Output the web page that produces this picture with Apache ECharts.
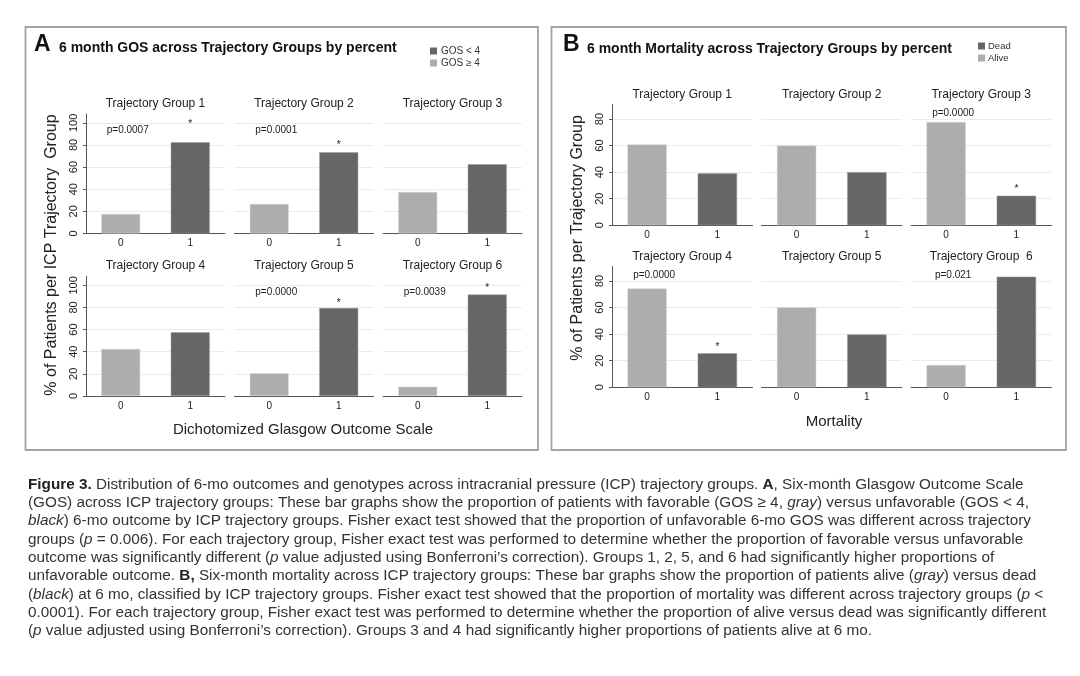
<!DOCTYPE html>
<html>
<head>
<meta charset="utf-8">
<script src="https://cdn.jsdelivr.net/npm/echarts@6/dist/echarts.min.js"></script>
<style>
  html, body { margin: 0; background: #fff; }
  #chart { width: 1080px; height: 676px; }
</style>
</head>
<body>
<div id="chart"></div>
<script>
// ---- data ----
const gosGroups = ['Trajectory Group 1', 'Trajectory Group 2', 'Trajectory Group 3',
                   'Trajectory Group 4', 'Trajectory Group 5', 'Trajectory Group 6'];
const mortGroups = ['Trajectory Group 1', 'Trajectory Group 2', 'Trajectory Group 3',
                    'Trajectory Group 4', 'Trajectory Group 5', 'Trajectory Group  6'];
const outcomeCats = ['0', '1'];

// % GOS >= 4 (category 0, gray) and GOS < 4 (category 1, black)
const gosFavorable   = [17.6, 26.7, 37.5, 42.5, 20.5, 8.3];
const gosUnfavorable = [82.4, 73.3, 62.5, 57.5, 79.5, 91.7];
const gosP    = ['p=0.0007', 'p=0.0001', '', '', 'p=0.0000', 'p=0.0039'];
const gosStar = [100.5, 81.5, null, null, 86, 99];
const gosTicks = [0, 20, 40, 60, 80, 100];

// % alive (category 0, gray) and dead (category 1, black)
const mortAlive = [60.9, 60.0, 77.8, 74.4, 60.2, 16.7];
const mortDead  = [39.1, 40.0, 22.2, 25.6, 39.8, 83.3];
const mortP    = ['', '', 'p=0.0000', 'p=0.0000', '', 'p=0.021'];
const mortStar = [null, null, 28.5, 31.5, null, null];
const mortTicks = [0, 20, 40, 60, 80];

const captionLines = [
  '{b|Figure 3.} Distribution of 6-mo outcomes and genotypes across intracranial pressure (ICP) trajectory groups. {b|A}, Six-month Glasgow Outcome Scale',
  '(GOS) across ICP trajectory groups: These bar graphs show the proportion of patients with favorable (GOS ≥ 4, {i|gray}) versus unfavorable (GOS < 4,',
  '{i|black}) 6-mo outcome by ICP trajectory groups. Fisher exact test showed that the proportion of unfavorable 6-mo GOS was different across trajectory',
  'groups ({i|p} = 0.006). For each trajectory group, Fisher exact test was performed to determine whether the proportion of favorable versus unfavorable',
  'outcome was significantly different ({i|p} value adjusted using Bonferroni’s correction). Groups 1, 2, 5, and 6 had significantly higher proportions of',
  'unfavorable outcome. {b|B,} Six-month mortality across ICP trajectory groups: These bar graphs show the proportion of patients alive ({i|gray}) versus dead',
  '({i|black}) at 6 mo, classified by ICP trajectory groups. Fisher exact test showed that the proportion of mortality was different across trajectory groups ({i|p} <',
  '0.0001). For each trajectory group, Fisher exact test was performed to determine whether the proportion of alive versus dead was significantly different',
  '({i|p} value adjusted using Bonferroni’s correction). Groups 3 and 4 had significantly higher proportions of patients alive at 6 mo.'
];

// ---- layout ----
const FONT = "'Liberation Sans', Arial, Helvetica, sans-serif";
const LIGHT = '#adadad';
const DARK = '#666666';
const TEXT = '#222';
const CAP = 15.3;

const panels = [
  {
    groups: gosGroups, light: gosFavorable, dark: gosUnfavorable,
    lightName: 'GOS ≥ 4', darkName: 'GOS < 4',
    pText: gosP, pY: 93.5, star: gosStar, ticks: gosTicks, max: 108,
    lefts: [86, 234.5, 383], tops: [114, 276.5], w: 139, h: 119.4, titleGap: 10.5
  },
  {
    groups: mortGroups, light: mortAlive, dark: mortDead,
    lightName: 'Alive', darkName: 'Dead',
    pText: mortP, pY: 84.5, star: mortStar, ticks: mortTicks, max: 91,
    lefts: [612, 761.5, 911], tops: [104.5, 266.5], w: 140.5, h: 120.7, titleGap: 9.5
  }
];

const grids = [], xAxes = [], yAxes = [], series = [];
const graphics = [
  { type: 'rect', shape: { x: 25.5, y: 27, width: 512.5, height: 423 },
    style: { fill: 'none', stroke: '#a3a3a3', lineWidth: 1.8 } },
  { type: 'rect', shape: { x: 551.5, y: 27, width: 514.5, height: 423 },
    style: { fill: 'none', stroke: '#a3a3a3', lineWidth: 1.8 } },
  { type: 'text', x: 34, y: 44.5, style: { text: 'A', fill: '#111', font: 'bold 23px ' + FONT, textVerticalAlign: 'middle' } },
  { type: 'text', x: 59, y: 48.5, style: { text: '6 month GOS across Trajectory Groups by percent', fill: '#111',
      font: 'bold 14px ' + FONT, textVerticalAlign: 'middle' } },
  { type: 'text', x: 563, y: 44.5, style: { text: 'B', fill: '#111', font: 'bold 23px ' + FONT, textVerticalAlign: 'middle' } },
  { type: 'text', x: 587, y: 49.5, style: { text: '6 month Mortality across Trajectory Groups by percent', fill: '#111',
      font: 'bold 14px ' + FONT, textVerticalAlign: 'middle' } },
  { type: 'text', x: 52, y: 255, rotation: Math.PI / 2,
    style: { text: '% of Patients per ICP Trajectory  Group', fill: TEXT, font: '16px ' + FONT,
      textAlign: 'center', textVerticalAlign: 'middle' } },
  { type: 'text', x: 578, y: 238, rotation: Math.PI / 2,
    style: { text: '% of Patients per Trajectory Group', fill: TEXT, font: '16px ' + FONT,
      textAlign: 'center', textVerticalAlign: 'middle' } },
  { type: 'text', x: 303, y: 430,
    style: { text: 'Dichotomized Glasgow Outcome Scale', fill: TEXT, font: '15px ' + FONT,
      textAlign: 'center', textVerticalAlign: 'middle' } },
  { type: 'text', x: 834, y: 422,
    style: { text: 'Mortality', fill: TEXT, font: '15px ' + FONT,
      textAlign: 'center', textVerticalAlign: 'middle' } }
];

let gi = 0;
panels.forEach(p => {
  p.groups.forEach((name, k) => {
    const col = k % 3, row = Math.floor(k / 3);
    const left = p.lefts[col], top = p.tops[row];
    grids.push({ left: left, top: top, width: p.w, height: p.h });
    xAxes.push({
      type: 'category', gridIndex: gi, data: outcomeCats,
      axisLine: { lineStyle: { color: '#555', width: 1 } },
      axisTick: { show: false },
      axisLabel: { color: TEXT, fontSize: 10, fontFamily: FONT, margin: 5 }
    });
    yAxes.push({
      type: 'value', gridIndex: gi, min: 0, max: p.max, interval: 20,
      axisLine: { show: col === 0, lineStyle: { color: '#555', width: 1 } },
      axisTick: { show: col === 0, length: 3, lineStyle: { color: '#555' } },
      axisLabel: {
        show: col === 0, rotate: 90, color: TEXT, fontSize: 11, fontFamily: FONT,
        margin: 7, showMaxLabel: false,
        formatter: v => (p.ticks.indexOf(v) >= 0 ? String(v) : '')
      },
      splitLine: { show: true, showMaxLine: false, lineStyle: { color: '#ebebeb', width: 1 } }
    });

    const lightSeries = {
      name: p.lightName, type: 'bar', xAxisIndex: gi, yAxisIndex: gi,
      barWidth: '56%', barGap: '-100%',
      itemStyle: { color: LIGHT, borderColor: '#d8d8d8', borderWidth: 0.5 },
      data: [p.light[k], '-']
    };
    const darkSeries = {
      name: p.darkName, type: 'bar', xAxisIndex: gi, yAxisIndex: gi,
      barWidth: '56%', barGap: '-100%',
      itemStyle: { color: DARK, borderColor: '#999', borderWidth: 0.5 },
      data: ['-', p.dark[k]]
    };
    if (p.pText[k]) {
      lightSeries.markPoint = {
        symbol: 'rect', symbolSize: 1, silent: true,
        itemStyle: { color: 'transparent' },
        label: { show: true, position: 'inside', offset: [7, 0], formatter: p.pText[k],
                 color: TEXT, fontSize: 10, fontFamily: FONT },
        data: [{ coord: ['0', p.pY] }]
      };
    }
    if (p.star[k] != null) {
      darkSeries.markPoint = {
        symbol: 'rect', symbolSize: 1, silent: true,
        itemStyle: { color: 'transparent' },
        label: { show: true, position: 'inside', formatter: '*',
                 color: TEXT, fontSize: 10, fontFamily: FONT, offset: [0, 2] },
        data: [{ coord: ['1', p.star[k]] }]
      };
    }
    series.push(lightSeries, darkSeries);

    graphics.push({
      type: 'text', x: left + p.w / 2, y: top - p.titleGap,
      style: { text: name, fill: TEXT, font: '12px ' + FONT, textAlign: 'center', textVerticalAlign: 'middle' }
    });
    gi++;
  });
});

captionLines.forEach((line, i) => {
  graphics.push({
    type: 'text', x: 28, y: 484.5 + i * 18.3,
    style: {
      text: line, fill: '#333', font: CAP + 'px ' + FONT, textVerticalAlign: 'middle',
      rich: {
        b: { fontWeight: 'bold', fontSize: CAP, fontFamily: FONT, fill: '#222' },
        i: { fontStyle: 'italic', fontSize: CAP, fontFamily: FONT, fill: '#333' }
      }
    }
  });
});

const chart = echarts.init(document.getElementById('chart'), null, { renderer: 'canvas' });
chart.setOption({
  animation: false,
  backgroundColor: '#fff',
  textStyle: { fontFamily: FONT },
  legend: [
    { data: ['GOS < 4', 'GOS ≥ 4'], left: 430, top: 46, padding: 0, orient: 'vertical', icon: 'rect',
      itemWidth: 7, itemHeight: 7, itemGap: 2, selectedMode: false,
      itemStyle: { borderWidth: 0 },
      textStyle: { fontSize: 10, color: '#333', fontFamily: FONT, padding: [0, 0, 0, -1] } },
    { data: ['Dead', 'Alive'], left: 978, top: 41, padding: 0, orient: 'vertical', icon: 'rect',
      itemWidth: 7, itemHeight: 7, itemGap: 2, selectedMode: false,
      itemStyle: { borderWidth: 0 },
      textStyle: { fontSize: 9.5, color: '#333', fontFamily: FONT, padding: [0, 0, 0, -2] } }
  ],
  grid: grids,
  xAxis: xAxes,
  yAxis: yAxes,
  series: series,
  graphic: graphics
});
</script>
</body>
</html>
